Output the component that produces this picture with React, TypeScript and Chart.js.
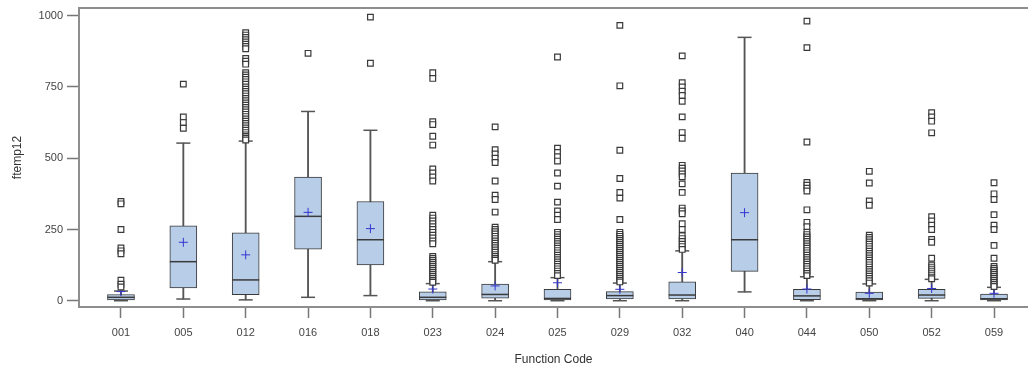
import React, { useEffect, useRef } from "react";
import { Chart, registerables } from "chart.js";

Chart.register(...registerables);

const categories = ["001", "005", "012", "016", "018", "023", "024", "025", "029", "032", "040", "044", "050", "052", "059"];
const q1 = [3, 45, 21, 181, 126, 3, 9, 3, 6, 6, 103, 4, 3, 8, 3];
const q3 = [22, 263, 238, 434, 348, 31, 58, 40, 32, 66, 448, 40, 30, 40, 23];
const medians = [12, 137, 73, 296, 214, 12, 22, 8, 18, 20, 214, 17, 7, 20, 7];
const means = [32, 205, 161, 310, 253, 41, 52, 63, 40, 99, 309, 41, 26, 43, 26];
const whiskerLow = [0, 6, 3, 12, 18, 0, 0, 0, 0, 0, 31, 0, 0, 0, 0];
const whiskerHigh = [34, 553, 560, 664, 598, 60, 137, 81, 62, 175, 924, 84, 59, 75, 47];
const yTicks = [0, 250, 500, 750, 1000];

const outliers: number[][] = [
  [348, 340, 250, 185, 175, 165, 72, 58, 48],
  [760, 645, 625, 605],
  [940, 932, 924, 916, 908, 900, 892, 884, 850, 840, 830, 800, 792, 784, 776, 768, 760, 750, 742, 734, 726, 718, 710, 702, 694, 686, 678, 670, 662, 654, 646, 638, 630, 622, 614, 606, 598, 590, 582, 576, 570, 564],
  [868],
  [995, 833],
  [800, 780, 628, 618, 577, 546, 462, 448, 434, 420, 300, 290, 280, 270, 260, 250, 240, 230, 220, 210, 200, 155, 148, 141, 134, 127, 120, 113, 106, 99, 92, 85, 78, 71, 65],
  [610, 530, 515, 500, 485, 420, 370, 355, 311, 258, 250, 242, 234, 226, 218, 210, 202, 194, 186, 178, 170, 162, 155, 148, 142],
  [855, 535, 520, 505, 490, 448, 402, 346, 315, 300, 285, 240, 232, 224, 216, 208, 200, 192, 184, 176, 168, 160, 152, 144, 136, 128, 120, 112, 104, 96, 88],
  [966, 754, 528, 429, 380, 360, 285, 240, 233, 226, 219, 212, 205, 198, 191, 184, 177, 170, 163, 156, 149, 142, 135, 128, 121, 114, 107, 100, 93, 86, 79, 72, 66],
  [859, 765, 750, 735, 720, 700, 645, 590, 570, 475, 465, 455, 445, 435, 410, 380, 325, 315, 305, 270, 250, 228, 218, 208, 198, 190, 180],
  [],
  [981, 888, 557, 415, 405, 395, 385, 319, 275, 260, 240, 232, 224, 216, 208, 200, 192, 184, 176, 168, 160, 152, 144, 136, 128, 120, 112, 104, 96, 88],
  [454, 413, 350, 335, 230, 222, 214, 206, 198, 190, 182, 174, 166, 158, 150, 142, 134, 126, 118, 110, 102, 94, 86, 78, 70, 62],
  [660, 645, 630, 589, 295, 280, 265, 250, 215, 205, 149, 125, 118, 111, 104, 97, 90, 83, 77],
  [414, 375, 355, 302, 265, 250, 194, 149, 120, 113, 106, 99, 92, 85, 78, 71, 64, 57, 50],
];

const AXIS = "#8e8e8e";
const DARK = "#3a3a3a";

const topBorder = {
  id: "topBorder",
  afterDraw(chart: any) {
    const { ctx, chartArea } = chart;
    ctx.save();
    ctx.strokeStyle = AXIS;
    ctx.lineWidth = 2;
    ctx.beginPath();
    ctx.moveTo(chartArea.left, chartArea.top);
    ctx.lineTo(chartArea.right, chartArea.top);
    ctx.stroke();
    ctx.restore();
  },
};

export default function App() {
  const ref = useRef<HTMLCanvasElement>(null);
  useEffect(() => {
    if (!ref.current) return;
    const idx = categories.map((_, i) => i);
    const chart = new Chart(ref.current, {
      type: "bar",
      data: {
        datasets: [
          {
            type: "bar",
            data: idx.map((i) => ({ x: i, y: [whiskerLow[i], whiskerHigh[i]] })) as any,
            backgroundColor: "#555555",
            borderWidth: 0,
            barThickness: 1.2,
            grouped: false,
            order: 6,
          } as any,
          {
            type: "scatter",
            data: idx.flatMap((i) => [{ x: i, y: whiskerLow[i] }, { x: i, y: whiskerHigh[i] }]),
            pointStyle: "line",
            radius: 7,
            borderColor: "#555555",
            borderWidth: 1.5,
            order: 5,
          } as any,
          {
            type: "bar",
            data: idx.map((i) => ({ x: i, y: [q1[i], q3[i]] })) as any,
            backgroundColor: "#b8cee8",
            borderColor: DARK,
            borderWidth: 1,
            borderSkipped: false,
            barThickness: 27,
            grouped: false,
            order: 4,
          } as any,
          {
            type: "scatter",
            data: idx.map((i) => ({ x: i, y: medians[i] })),
            pointStyle: "line",
            radius: 13.5,
            borderColor: DARK,
            borderWidth: 1.5,
            order: 3,
          } as any,
          {
            type: "scatter",
            data: idx.map((i) => ({ x: i, y: means[i] })),
            pointStyle: "cross",
            radius: 4.5,
            borderColor: "#3535d0",
            borderWidth: 1,
            order: 2,
          } as any,
          {
            type: "scatter",
            data: idx.flatMap((i) => outliers[i].map((v) => ({ x: i, y: v }))),
            pointStyle: "rect",
            radius: 4,
            borderColor: DARK,
            backgroundColor: "#ffffff",
            borderWidth: 1.2,
            order: 1,
          } as any,
        ],
      },
      options: {
        responsive: false,
        animation: false,
        events: [],
        layout: { autoPadding: false, padding: { top: 8, right: 0, bottom: 0, left: 0 } },
        plugins: { legend: { display: false }, tooltip: { enabled: false } },
        scales: {
          x: {
            type: "linear",
            offset: false,
            min: -0.673,
            max: 14.545,
            afterBuildTicks: (s: any) => {
              s.ticks = categories.map((_, i) => ({ value: i }));
            },
            afterFit: (s: any) => {
              s.height = 61;
              s.paddingLeft = 0;
              s.paddingRight = 0;
            },
            ticks: {
              callback: (v: any) => categories[v],
              autoSkip: false,
              maxRotation: 0,
              font: { family: "Liberation Sans, Arial", size: 11 },
              color: "#444444",
              padding: 8,
            },
            grid: { offset: false, drawOnChartArea: false, drawTicks: true, tickLength: 11, tickColor: "#777777", tickWidth: 1.5 },
            border: { color: AXIS, width: 2 },
            title: {
              display: true,
              text: "Function Code",
              font: { family: "Liberation Sans, Arial", size: 12 },
              color: "#333333",
              padding: { top: 4, bottom: 1 },
            },
          } as any,
          y: {
            type: "linear",
            min: -22,
            max: 1027,
            afterBuildTicks: (s: any) => {
              s.ticks = yTicks.map((v) => ({ value: v }));
            },
            afterFit: (s: any) => {
              s.width = 79;
              s.paddingTop = 0;
              s.paddingBottom = 0;
            },
            ticks: {
              callback: (v: any) => String(v),
              font: { family: "Liberation Sans, Arial", size: 11 },
              color: "#444444",
              padding: 4,
            },
            grid: { drawOnChartArea: false, drawTicks: true, tickLength: 12, tickColor: "#777777", tickWidth: 1.5 },
            border: { color: AXIS, width: 2 },
            title: {
              display: true,
              text: "ftemp12",
              font: { family: "Liberation Sans, Arial", size: 12 },
              color: "#333333",
              padding: { top: 10, bottom: 4 },
            },
          } as any,
        },
      },
      plugins: [topBorder],
    });
    return () => chart.destroy();
  }, []);
  return (
    <div style={{ position: "absolute", left: 0, top: 0, width: 1028, height: 368, background: "#fff" }}>
      <canvas ref={ref} width={1028} height={368} />
    </div>
  );
}
